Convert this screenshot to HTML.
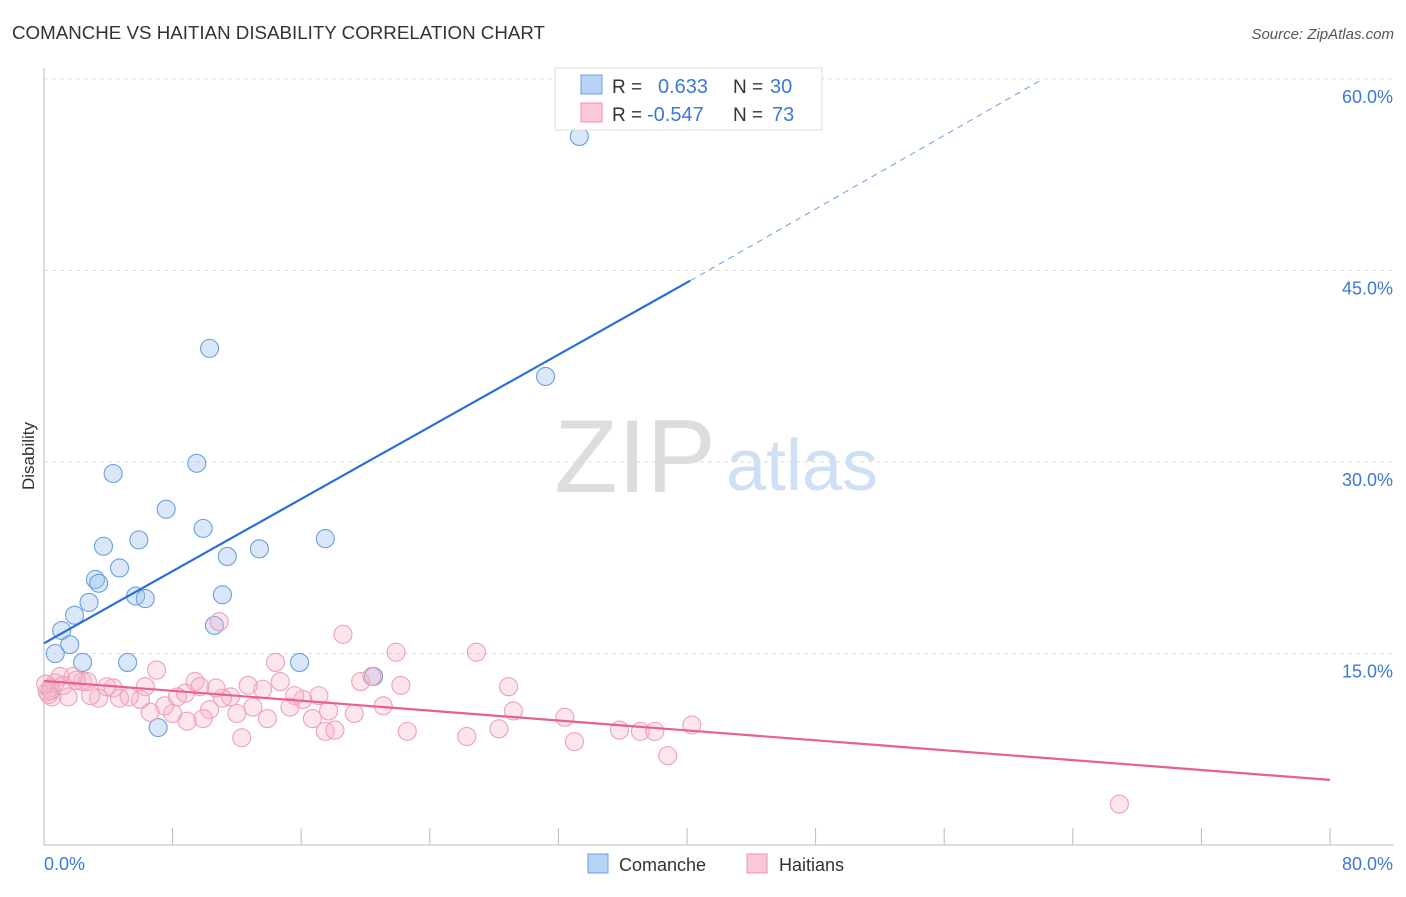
<!DOCTYPE html>
<html><head><meta charset="utf-8"><style>
body{margin:0;background:#fff;font-family:"Liberation Sans",sans-serif;}
svg text{font-family:"Liberation Sans",sans-serif;}
</style></head><body>
<svg id="chart" width="1406" height="892">
<text x="12" y="39" font-size="18.5" fill="#333" textLength="533" lengthAdjust="spacingAndGlyphs">COMANCHE VS HAITIAN DISABILITY CORRELATION CHART</text>
<text x="1394" y="39" font-size="15" fill="#555" font-style="italic" text-anchor="end">Source: ZipAtlas.com</text>
<text x="34" y="456" font-size="17" fill="#333" transform="rotate(-90 34 456)" text-anchor="middle">Disability</text>
<g><text x="635" y="492" font-size="104" fill="#ddd" font-family="Liberation Serif" text-anchor="middle">ZIP</text><text x="802" y="490" font-size="72" fill="#cfe0f5" text-anchor="middle">atlas</text></g>
<g id="grid"></g><g id="axes"></g><g id="marks"></g>
<g>
<rect x="555" y="68" width="267" height="62" fill="#fff" stroke="#ddd"/>
<rect x="581" y="75" width="21" height="19" fill="#b8d3f5" stroke="#6a9fe0"/>
<rect x="581" y="103" width="21" height="19" fill="#fcc8d8" stroke="#ec8fab"/>
<text x="612" y="93" font-size="19" fill="#333">R =</text><text x="658" y="93" font-size="20" fill="#3b78d8">0.633</text>
<text x="733" y="93" font-size="19" fill="#333">N =</text><text x="770" y="93" font-size="20" fill="#3b78d8">30</text>
<text x="612" y="121" font-size="19" fill="#333">R =</text><text x="647" y="121" font-size="20" fill="#3b78d8">-0.547</text>
<text x="733" y="121" font-size="19" fill="#333">N =</text><text x="772" y="121" font-size="20" fill="#3b78d8">73</text>
</g>
<g>
<rect x="588" y="854" width="20" height="19" fill="#b8d3f5" stroke="#6a9fe0"/><text x="619" y="871" font-size="18" fill="#333">Comanche</text>
<rect x="747" y="854" width="20" height="19" fill="#fcc8d8" stroke="#ec8fab"/><text x="779" y="871" font-size="18" fill="#333">Haitians</text>
</g>
</svg>
<script>
const yTicks=[15,30,45,60];
const yTickLabels=["15.0%","30.0%","45.0%","60.0%"];
const xTickLabels=["0.0%","80.0%"];
const comancheX=[33.3,10.3,31.2,9.5,4.3,7.6,9.9,17.5,5.9,3.7,13.4,11.4,4.7,3.2,3.4,5.7,6.3,11.1,2.8,1.9,10.6,1.1,1.6,0.7,2.4,5.2,15.9,20.5,7.1,0.4];
const comancheY=[55.5,38.9,36.7,29.9,29.1,26.3,24.8,24.0,23.9,23.4,23.2,22.6,21.7,20.8,20.5,19.5,19.3,19.6,19.0,18.0,17.2,16.8,15.7,15.0,14.3,14.3,14.3,13.2,9.2,12.1];
const haitianX=[10.9,18.6,21.9,26.9,7.0,14.4,14.7,19.7,20.4,22.2,28.9,29.2,21.1,19.3,17.7,17.1,16.1,15.6,15.3,16.7,17.5,18.1,22.6,26.3,28.3,13.9,13.6,12.7,13.0,12.0,12.3,11.6,11.1,10.7,10.3,9.9,8.9,8.0,7.5,6.6,9.4,9.7,8.8,8.3,6.3,6.0,5.3,4.7,4.3,3.9,3.4,2.9,2.4,2.7,1.8,1.5,1.0,0.7,0.4,0.5,66.9,33.0,32.4,35.8,37.1,38.0,38.8,40.3,0.2,0.3,1.2,2.0,0.1];
const haitianY=[17.5,16.5,15.1,15.1,13.7,14.3,12.8,12.8,13.2,12.5,12.4,10.5,10.9,10.3,10.5,11.7,11.4,11.7,10.8,9.9,8.9,9.0,8.9,8.5,9.1,9.9,12.2,12.5,10.8,10.3,8.4,11.6,11.5,12.3,10.6,9.9,9.7,10.3,10.9,10.4,12.8,12.4,11.9,11.6,12.4,11.4,11.6,11.5,12.3,12.4,11.5,11.7,12.8,12.8,13.2,11.6,13.2,12.7,12.3,11.6,3.2,8.1,10.0,9.0,8.9,8.9,7.0,9.4,12.0,11.8,12.5,12.9,12.6];
const blueTrend=[[0,15.8],[40.2,44.2]], blueDash=[[40.2,44.2],[62,59.9]];
const pinkTrend=[[0,12.85],[80,5.1]];
const X=v=>44+v/80*1286, Y=v=>845-v/60*766;
const NS="http://www.w3.org/2000/svg";
function mk(tag,attrs,parent){const e=document.createElementNS(NS,tag);for(const k in attrs)e.setAttribute(k,attrs[k]);document.getElementById(parent).appendChild(e);return e;}
yTicks.forEach((t,i)=>{
 const g=mk('line',{x1:44,x2:1394,y1:Y(t),y2:Y(t),stroke:'#ddd','stroke-dasharray':'4,4'},'grid');
 
 
 const l=mk('text',{x:1393,y:Y(t)+24,'font-size':18,fill:'#3b78d8','text-anchor':'end'},'axes');l.textContent=yTickLabels[i];
 
 
});
let ax=mk('line',{x1:44,x2:44,y1:68,y2:845,stroke:'#bbb'},'axes');


ax=mk('line',{x1:44,x2:1394,y1:845,y2:845,stroke:'#bbb'},'axes');


for(let i=0;i<=10;i++){const t=mk('line',{x1:X(i*8),x2:X(i*8),y1:828,y2:845,stroke:'#bbb'},'axes');
 
 }
[[0,'start',44],[80,'end',1393]].forEach((d,i)=>{const l=mk('text',{x:d[2],y:870,'font-size':18,fill:'#3b78d8','text-anchor':d[1]},'axes');l.textContent=xTickLabels[i];
 
 });
comancheX.forEach((x,i)=>{const c=mk('circle',{cx:X(x),cy:Y(comancheY[i]),r:9,fill:'rgba(160,195,240,0.4)',stroke:'#6a9fe0','stroke-width':1.1},'marks');
 
 });
haitianX.forEach((x,i)=>{const c=mk('circle',{cx:X(x),cy:Y(haitianY[i]),r:9,fill:'rgba(250,180,200,0.35)',stroke:'#eda0b8','stroke-width':1.1},'marks');
 
 });
let tl=mk('line',{x1:X(blueTrend[0][0]),y1:Y(blueTrend[0][1]),x2:X(blueTrend[1][0]),y2:Y(blueTrend[1][1]),stroke:'#2a6fd6','stroke-width':2.2},'marks');


tl=mk('line',{x1:X(blueDash[0][0]),y1:Y(blueDash[0][1]),x2:X(blueDash[1][0]),y2:Y(blueDash[1][1]),stroke:'#6a9fe0','stroke-width':1,'stroke-dasharray':'6,5'},'marks');


tl=mk('line',{x1:X(pinkTrend[0][0]),y1:Y(pinkTrend[0][1]),x2:X(pinkTrend[1][0]),y2:Y(pinkTrend[1][1]),stroke:'#e8608c','stroke-width':2.2},'marks');


</script>
</body></html>
